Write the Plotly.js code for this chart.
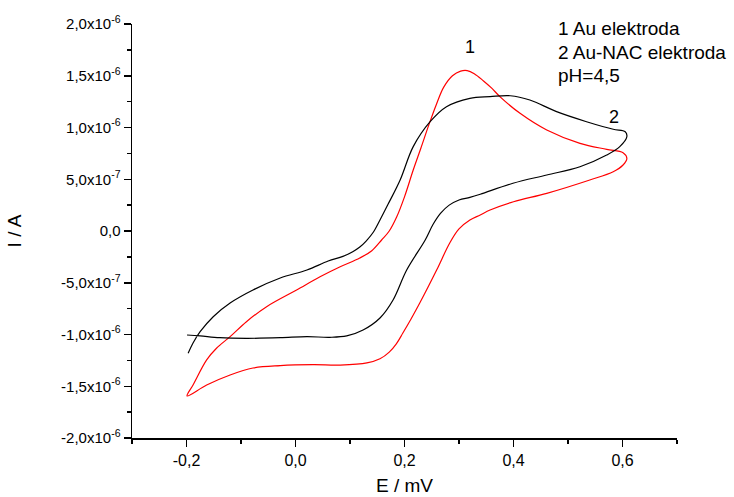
<!DOCTYPE html>
<html>
<head>
<meta charset="utf-8">
<script src="https://cdn.plot.ly/plotly-3.0.1.min.js"></script>
<style>
  html, body { margin: 0; padding: 0; background: #fff; }
  #chart { width: 734px; height: 497px; }
</style>
</head>
<body>
<div id="chart"></div>
<script>
// Potential E and current I (in units of 1e-6 A)
const auE = [-0.199, -0.188, -0.163, -0.145, -0.120, -0.090, -0.053, 0.002, 0.045, 0.082, 0.118, 0.140, 0.158, 0.172, 0.186, 0.200, 0.216, 0.230, 0.245, 0.259, 0.272, 0.288, 0.303, 0.315, 0.328, 0.345, 0.360, 0.375, 0.412, 0.461, 0.522, 0.571, 0.601, 0.608,
             0.601, 0.583, 0.540, 0.461, 0.400, 0.357, 0.339, 0.320, 0.300, 0.283, 0.259, 0.228, 0.212, 0.197, 0.185, 0.172, 0.155, 0.131, 0.082, 0.032, -0.028, -0.078, -0.120, -0.163, -0.199];
const auI = [-1.594, -1.488, -1.246, -1.133, -1.021, -0.876, -0.731, -0.570, -0.442, -0.345, -0.261, -0.190, -0.087, 0.000, 0.140, 0.330, 0.589, 0.800, 1.030, 1.230, 1.390, 1.500, 1.545, 1.550, 1.520, 1.450, 1.380, 1.298, 1.137, 0.976, 0.847, 0.789, 0.757, 0.702,
             0.638, 0.573, 0.493, 0.364, 0.283, 0.203, 0.155, 0.106, 0.020, -0.116, -0.377, -0.696, -0.850, -0.986, -1.090, -1.170, -1.235, -1.275, -1.295, -1.292, -1.301, -1.324, -1.391, -1.488, -1.594];

const nacE = [-0.197, -0.188, -0.175, -0.151, -0.120, -0.078, -0.028, 0.021, 0.060, 0.087, 0.105, 0.118, 0.130, 0.143, 0.155, 0.170, 0.192, 0.216, 0.247, 0.277, 0.320, 0.357, 0.394, 0.430, 0.479, 0.534, 0.583, 0.605, 0.608,
              0.595, 0.571, 0.522, 0.461, 0.399, 0.339, 0.320, 0.300, 0.282, 0.266, 0.252, 0.238, 0.204, 0.179, 0.155, 0.124, 0.094, 0.063, 0.021, -0.028, -0.090, -0.139, -0.175, -0.199];
const nacI = [-1.182, -1.082, -0.973, -0.828, -0.696, -0.570, -0.454, -0.377, -0.290, -0.245, -0.200, -0.155, -0.095, -0.010, 0.106, 0.260, 0.493, 0.815, 1.056, 1.201, 1.282, 1.298, 1.307, 1.266, 1.153, 1.056, 0.983, 0.959, 0.911,
              0.815, 0.734, 0.621, 0.541, 0.461, 0.355, 0.325, 0.300, 0.250, 0.170, 0.060, -0.087, -0.377, -0.667, -0.841, -0.957, -1.014, -1.027, -1.021, -1.031, -1.037, -1.031, -1.014, -1.005];

const xTickVals = [-0.2, 0.0, 0.2, 0.4, 0.6];
const xTickText = ["-0,2", "0,0", "0,2", "0,4", "0,6"];
const yTickVals = [-2.0, -1.5, -1.0, -0.5, 0.0, 0.5, 1.0, 1.5, 2.0];
const yTickText = ["-2,0x10<sup>-6</sup>", "-1,5x10<sup>-6</sup>", "-1,0x10<sup>-6</sup>", "-5,0x10<sup>-7</sup>", "0,0",
                   "5,0x10<sup>-7</sup>", "1,0x10<sup>-6</sup>", "1,5x10<sup>-6</sup>", "2,0x10<sup>-6</sup>"];
const legendLines = ["1 Au elektroda", "2 Au-NAC elektroda", "pH=4,5"];

const font = "Liberation Sans, Arial, sans-serif";

const traces = [
  { x: auE, y: auI, mode: "lines", line: { color: "#ff0000", width: 1.2, shape: "spline", smoothing: 1 }, showlegend: false, hoverinfo: "skip" },
  { x: nacE, y: nacI, mode: "lines", line: { color: "#000000", width: 1.2, shape: "spline", smoothing: 1 }, showlegend: false, hoverinfo: "skip" }
];

const annotations = [
  { x: 0.320, y: 1.78, xref: "x", yref: "y", text: "1", showarrow: false, font: { family: font, size: 18, color: "#000" } },
  { x: 0.584, y: 1.10, xref: "x", yref: "y", text: "2", showarrow: false, font: { family: font, size: 18, color: "#000" } }
];
legendLines.forEach((t, i) => {
  annotations.push({ x: 0.778, y: [0.988, 0.932, 0.876][i], xref: "paper", yref: "paper", xanchor: "left", yanchor: "middle",
    text: t, showarrow: false, font: { family: font, size: 19, color: "#000" } });
});

const layout = {
  width: 734, height: 497,
  margin: { l: 132, r: 57, t: 24, b: 59, pad: 0 },
  paper_bgcolor: "#fff", plot_bgcolor: "#fff",
  font: { family: font, size: 15, color: "#000" },
  showlegend: false,
  xaxis: {
    range: [-0.3, 0.7], showgrid: false, zeroline: false,
    showline: true, linecolor: "#000", linewidth: 1.5, mirror: false,
    ticks: "outside", ticklen: 7, tickwidth: 1.5, tickcolor: "#000",
    tickvals: xTickVals, ticktext: xTickText,
    minor: { dtick: 0.1, tick0: -0.3, ticks: "outside", ticklen: 4, tickwidth: 1.5, tickcolor: "#000", showgrid: false },
    tickfont: { family: font, size: 16, color: "#000" },
    title: { text: "E / mV", font: { family: font, size: 19, color: "#000" }, standoff: 11 }
  },
  yaxis: {
    range: [-2.0, 2.0], showgrid: false, zeroline: false,
    showline: true, linecolor: "#000", linewidth: 1.5, mirror: false,
    ticks: "outside", ticklen: 7, tickwidth: 1.5, tickcolor: "#000",
    tickvals: yTickVals, ticktext: yTickText,
    minor: { dtick: 0.25, tick0: -2.0, ticks: "outside", ticklen: 4, tickwidth: 1.5, tickcolor: "#000", showgrid: false },
    tickfont: { family: font, size: 15, color: "#000" },
    title: { text: "I / A", font: { family: font, size: 19, color: "#000" }, standoff: 34 }
  },
  annotations: annotations
};

Plotly.newPlot("chart", traces, layout, { staticPlot: true, displayModeBar: false });
</script>
</body>
</html>
